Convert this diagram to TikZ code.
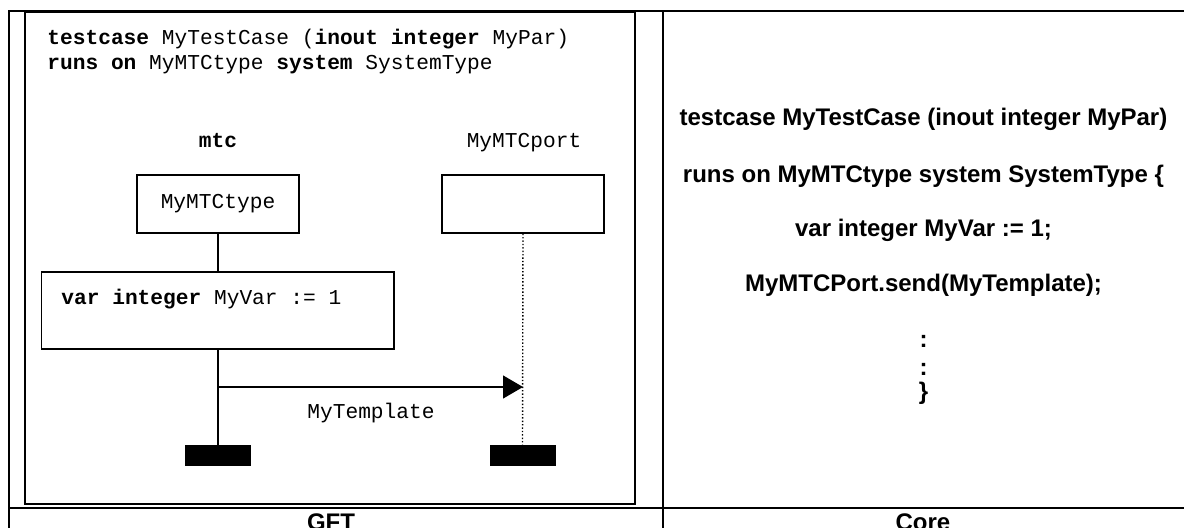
\documentclass[tikz,border=0pt]{standalone}
\usepackage{fontspec}
\setmainfont{Liberation Sans}
\newfontfamily\gftfont{Liberation Mono}
\usetikzlibrary{arrows.meta,positioning}

\begin{document}
\begin{tikzpicture}[x=0.5pt,y=-0.5pt,
  gft/.style={font=\gftfont\fontsize{10.6}{12}\selectfont,inner sep=0pt},
  core/.style={font=\bfseries\fontsize{12}{14}\selectfont,inner sep=0pt,anchor=base},
  inst/.style={rectangle,draw,line width=0.65pt,minimum width=81pt,minimum height=29pt,gft},
  endbar/.style={rectangle,fill=black,minimum width=33pt,minimum height=10.5pt,inner sep=0pt},
  grid/.style={line width=1pt},
  arr/.style={-{Triangle[length=10pt,width=11.5pt]},line width=0.65pt}]
\useasboundingbox (0,0) rectangle (1184,528);
% table
\draw[grid] (8.7,528) -- (8.7,11) -- (1184,11);
\draw[grid] (663,11) -- (663,528);
\draw[grid] (8.7,508) -- (1184,508);
\node[core] (gftlbl) at (331,531) {GFT};
\node[core] (corelbl) at (923,531) {Core};
% GFT side
\draw[line width=0.85pt] (25,12.5) rectangle (635,503.7);
\node[gft,anchor=base west] (head1) at (47,45) {\textbf{testcase} MyTestCase (\textbf{inout integer} MyPar)};
\node[gft,anchor=base west] (head2) at (47,70) {\textbf{runs on} MyMTCtype \textbf{system} SystemType};
\node[inst] (mtcbox) at (218,204) {MyMTCtype};
\node[inst] (portbox) at (523,204) {};
\node[gft,anchor=base] (mtclbl) at (218,148) {\textbf{mtc}};
\node[gft,anchor=base] (portlbl) at (524,148) {MyMTCport};
\node[rectangle,draw,line width=0.65pt,minimum width=176.25pt,minimum height=38.5pt] (varbox) at (217.75,310.5) {};
\node[gft,anchor=base west] (vartxt) at (61,305) {\textbf{var integer} MyVar := 1};
\node[endbar] (mtcend) at (218,455.5) {};
\node[endbar] (portend) at (522.5,455.5) {};
\coordinate (sendpt) at (218,387);
\draw[line width=0.65pt] (mtcbox.south) -- (mtcbox.south |- varbox.north);
\draw[line width=0.65pt] (mtcbox.south |- varbox.south) -- (mtcend.north);
\draw[line width=0.7pt,dash pattern=on 0.7pt off 1pt] (portbox.south) -- (portend.north);
\draw[arr] (sendpt) -- (portbox.south |- sendpt);
\node[gft,anchor=base] (tmpl) at (371,419) {MyTemplate};
% Core side
\node[core] (c1) at (923.5,126) {testcase MyTestCase (inout integer MyPar)};
\node[core] (c2) at (923.5,183) {runs on MyMTCtype system SystemType \{};
\node[core] (c3) at (923.5,237) {var integer MyVar := 1;};
\node[core] (c4) at (923.5,292) {MyMTCPort.send(MyTemplate);};
\node[core] (c5) at (923.5,348) {:};
\node[core] (c6) at (923.5,376) {:};
\node[core] (c7) at (923.5,400) {\}};
\end{tikzpicture}
\end{document}
